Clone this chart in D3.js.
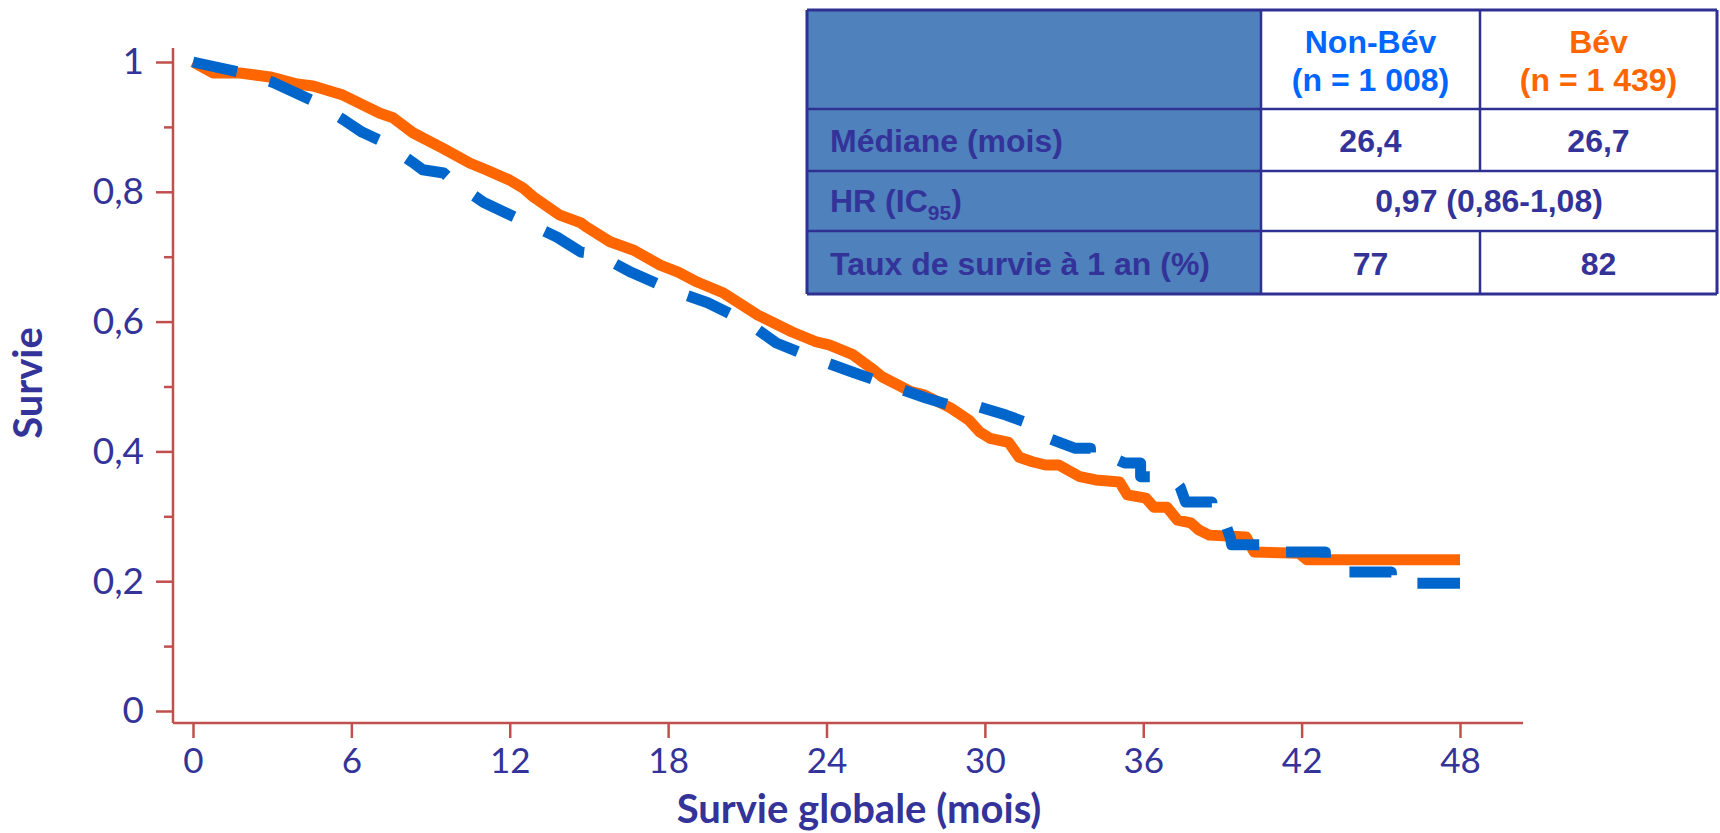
<!DOCTYPE html>
<html>
<head>
<meta charset="utf-8">
<script src="https://cdn.jsdelivr.net/npm/d3@7"></script>
<style>
  body { margin: 0; background: #fff; }
  svg { display: block; }
</style>
</head>
<body>
<div id="chart"></div>
<script>
// Survie globale : Bév vs Non-Bév (courbes de Kaplan-Meier)
const xTicks = [0, 6, 12, 18, 24, 30, 36, 42, 48];
const yTicks = [0, 0.2, 0.4, 0.6, 0.8, 1];
const yMinorTicks = [0.1, 0.3, 0.5, 0.7, 0.9];

// Bév (trait plein orange)
const bevMonths = [0, 0.76, 1.78, 2.92, 3.94, 4.55, 5.68, 7.08, 7.58, 8.33, 9.47, 10.5, 11.1, 12.0, 12.5, 12.9,
  13.9, 14.7, 14.9, 15.8, 16.7, 17.7, 18.4, 19.1, 20.1, 21.4, 22.7, 23.6, 24.1, 25.0, 25.8, 26.1, 27.2, 27.7,
  28.7, 29.4, 29.8, 30.2, 30.9, 31.3, 31.8, 32.3, 32.8, 33.6, 34.2, 35.1, 35.4, 36.1, 36.4, 36.9, 37.3, 37.8,
  38.1, 38.5, 39.9, 40.2, 41.9, 42.2, 48];
const bevSurvival = [1.0, 0.983, 0.983, 0.977, 0.966, 0.963, 0.949, 0.921, 0.914, 0.891, 0.867, 0.844, 0.834, 0.818, 0.806, 0.792,
  0.764, 0.752, 0.746, 0.723, 0.710, 0.687, 0.676, 0.661, 0.644, 0.610, 0.584, 0.569, 0.564, 0.549, 0.525, 0.515, 0.492, 0.487,
  0.467, 0.448, 0.430, 0.420, 0.414, 0.391, 0.384, 0.379, 0.379, 0.361, 0.356, 0.353, 0.333, 0.328, 0.314, 0.314, 0.294, 0.290,
  0.279, 0.271, 0.268, 0.245, 0.243, 0.233, 0.233];

// Non-Bév (tirets bleus)
const nonBevMonths = [0, 1.7, 3.0, 4.5, 5.7, 6.4, 7.2, 8.3, 8.7, 9.5, 9.8, 11.0, 12.6, 13.8, 14.7, 15.3, 16.6, 18.1,
  19.5, 21.0, 22.1, 23.7, 25.0, 26.6, 27.8, 28.7, 29.6, 30.8, 31.6, 32.3, 33.4, 34.0, 34.0, 34.8, 35.3, 35.9, 35.9,
  37.1, 37.4, 37.6, 38.6, 38.6, 38.9, 39.3, 39.35, 40.7, 41.3, 41.3, 42.9, 42.9, 43.6, 45.4, 45.4, 48];
const nonBevSurvival = [1.0, 0.985, 0.969, 0.941, 0.911, 0.892, 0.877, 0.846, 0.834, 0.829, 0.818, 0.784, 0.753, 0.730, 0.707, 0.704, 0.676, 0.649,
  0.629, 0.599, 0.567, 0.541, 0.522, 0.499, 0.482, 0.471, 0.471, 0.456, 0.444, 0.422, 0.405, 0.405, 0.391, 0.391, 0.382, 0.382, 0.361,
  0.361, 0.345, 0.322, 0.322, 0.313, 0.313, 0.267, 0.256, 0.256, 0.256, 0.245, 0.245, 0.222, 0.214, 0.214, 0.197, 0.197];

// Tableau
const groupNames = ['Non-Bév', 'Bév'];
const groupSizes = ['(n = 1 008)', '(n = 1 439)'];
const rowLabels = ['Médiane (mois)', 'HR (IC95)', 'Taux de survie à 1 an (%)'];
const medianValues = ['26,4', '26,7'];
const hrValue = '0,97 (0,86-1,08)';
const oneYearRates = ['77', '82'];

const axisColor = '#C0504D';
const textColor = '#333399';
const orange = '#FF6600';
const blue = '#0066CC';

const svg = d3.select('#chart').append('svg')
  .attr('width', 1720)
  .attr('height', 833);

const x = d3.scaleLinear().domain([0, 48]).range([193, 1460]);
const y = d3.scaleLinear().domain([0, 1]).range([711, 62]);

const axisLeftX = 173, axisBottomY = 723;

// axes
const yAxis = svg.append('g')
  .attr('transform', `translate(${axisLeftX},0)`)
  .call(d3.axisLeft(y).tickValues(yTicks).tickSize(17).tickPadding(12)
    .tickFormat(d => (d === 0 || d === 1) ? String(d) : d3.format('.1f')(d).replace('.', ',')));
const yMinor = svg.append('g')
  .attr('transform', `translate(${axisLeftX},0)`)
  .call(d3.axisLeft(y).tickValues(yMinorTicks).tickSize(9).tickFormat(''));
const xAxis = svg.append('g')
  .attr('transform', `translate(0,${axisBottomY})`)
  .call(d3.axisBottom(x).tickValues(xTicks).tickSize(15).tickPadding(10));

[yAxis, yMinor, xAxis].forEach(a => {
  a.select('.domain').remove();
  a.selectAll('.tick line').attr('stroke', axisColor).attr('stroke-width', 2.5);
  a.selectAll('.tick text')
    .attr('fill', textColor)
    .style('font-family', 'Lato, sans-serif');
});
yAxis.selectAll('.tick text').style('font-size', '37px');
xAxis.selectAll('.tick text').style('font-size', '35px');

svg.append('line')
  .attr('x1', axisLeftX).attr('x2', axisLeftX)
  .attr('y1', 48).attr('y2', axisBottomY)
  .attr('stroke', axisColor).attr('stroke-width', 2.5);
svg.append('line')
  .attr('x1', axisLeftX).attr('x2', 1523)
  .attr('y1', axisBottomY).attr('y2', axisBottomY)
  .attr('stroke', axisColor).attr('stroke-width', 2.5);

// titres
svg.append('text')
  .attr('x', 859).attr('y', 823)
  .attr('text-anchor', 'middle')
  .attr('fill', textColor)
  .style('font-family', 'Lato, sans-serif')
  .style('font-weight', 'bold')
  .style('font-size', '40px')
  .text('Survie globale (mois)');
svg.append('text')
  .attr('transform', 'translate(42,383) rotate(-90)')
  .attr('text-anchor', 'middle')
  .attr('fill', textColor)
  .style('font-family', 'Lato, sans-serif')
  .style('font-weight', 'bold')
  .style('font-size', '40px')
  .text('Survie');

// courbes
const line = d3.line()
  .x(d => x(d[0]))
  .y(d => y(d[1]));

svg.append('path')
  .datum(d3.zip(bevMonths, bevSurvival))
  .attr('fill', 'none')
  .attr('stroke', orange)
  .attr('stroke-width', 11)
  .attr('stroke-linejoin', 'round')
  .attr('d', line);

svg.append('path')
  .datum(d3.zip(nonBevMonths, nonBevSurvival))
  .attr('fill', 'none')
  .attr('stroke', blue)
  .attr('stroke-width', 11)
  .attr('stroke-linejoin', 'round')
  .attr('stroke-dasharray', '45 34')
  .attr('d', line);

// tableau
const colX = [807, 1261, 1480, 1717];
const rowY = [10, 109, 171, 231, 294];
const table = svg.append('g').style('font-family', '"Liberation Sans", Arial, sans-serif').style('font-weight', 'bold');

table.append('rect')
  .attr('x', colX[0]).attr('y', rowY[0])
  .attr('width', colX[3] - colX[0]).attr('height', rowY[4] - rowY[0])
  .attr('fill', '#fff');
table.append('rect')
  .attr('x', colX[0]).attr('y', rowY[0])
  .attr('width', colX[1] - colX[0]).attr('height', rowY[4] - rowY[0])
  .attr('fill', '#4F81BD');

const border = '#2E3192';
rowY.forEach((ry, i) => {
  table.append('line')
    .attr('x1', colX[0]).attr('x2', colX[3])
    .attr('y1', ry).attr('y2', ry)
    .attr('stroke', border).attr('stroke-width', (i === 0 || i === 4) ? 3 : 2.5);
});
colX.forEach((cx, i) => {
  const segs = (i === 2) ? [[rowY[0], rowY[2]], [rowY[3], rowY[4]]] : [[rowY[0], rowY[4]]];
  segs.forEach(s => {
    table.append('line')
      .attr('x1', cx).attr('x2', cx)
      .attr('y1', s[0]).attr('y2', s[1])
      .attr('stroke', border).attr('stroke-width', (i === 0 || i === 3) ? 3 : 2.5);
  });
});

const fs = 32;
const colCenter = i => (colX[i + 1] + colX[i + 2]) / 2;
const groupColors = ['#0066FF', orange];

groupNames.forEach((g, i) => {
  table.append('text')
    .attr('x', colCenter(i)).attr('y', 53)
    .attr('text-anchor', 'middle').attr('fill', groupColors[i])
    .style('font-size', fs + 'px').text(g);
  table.append('text')
    .attr('x', colCenter(i)).attr('y', 91)
    .attr('text-anchor', 'middle').attr('fill', groupColors[i])
    .style('font-size', fs + 'px').text(groupSizes[i]);
});

const rowBaselines = [152, 212, 275];
rowLabels.forEach((lab, r) => {
  const t = table.append('text')
    .attr('x', 830).attr('y', rowBaselines[r])
    .attr('fill', textColor)
    .style('font-size', fs + 'px');
  if (lab.includes('IC95')) {
    t.append('tspan').text('HR (IC');
    t.append('tspan').attr('dy', 8).style('font-size', '21px').text('95');
    t.append('tspan').attr('dy', -8).text(')');
  } else {
    t.text(lab);
  }
});

medianValues.forEach((v, i) => {
  table.append('text')
    .attr('x', colCenter(i)).attr('y', rowBaselines[0])
    .attr('text-anchor', 'middle').attr('fill', textColor)
    .style('font-size', fs + 'px').text(v);
});
table.append('text')
  .attr('x', (colX[1] + colX[3]) / 2).attr('y', rowBaselines[1])
  .attr('text-anchor', 'middle').attr('fill', textColor)
  .style('font-size', fs + 'px').text(hrValue);
oneYearRates.forEach((v, i) => {
  table.append('text')
    .attr('x', colCenter(i)).attr('y', rowBaselines[2])
    .attr('text-anchor', 'middle').attr('fill', textColor)
    .style('font-size', fs + 'px').text(v);
});
</script>
</body>
</html>
